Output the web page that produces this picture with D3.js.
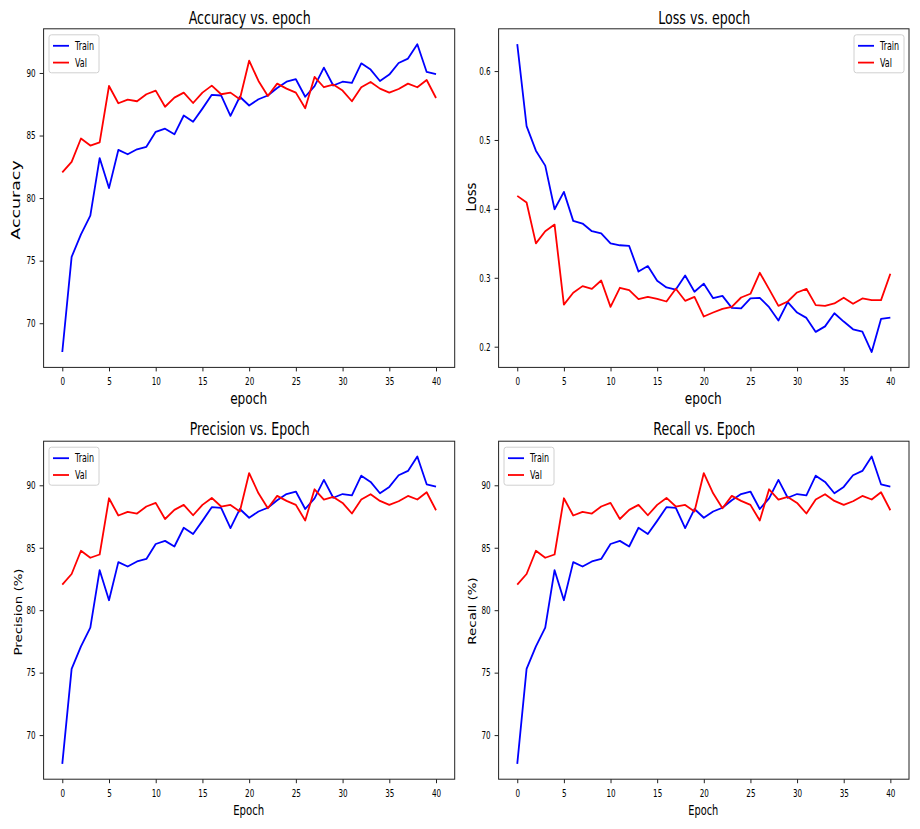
<!DOCTYPE html>
<html><head><meta charset="utf-8">
<script src="https://cdn.jsdelivr.net/npm/d3@7"></script>
<style>html,body{margin:0;padding:0;background:#fff;}svg{display:block;}</style>
</head><body>
<svg id="fig" width="920" height="829"></svg>
<script>
const epochs = d3.range(0, 41);
const xTicks = [0, 5, 10, 15, 20, 25, 30, 35, 40];
const pctTicks = [70, 75, 80, 85, 90];
const lossTicks = [0.2, 0.3, 0.4, 0.5, 0.6];
const seriesNames = ["Train", "Val"];

const accTrain = [67.7, 75.3, 77.1, 78.6, 83.2, 80.8, 83.85, 83.5, 83.9, 84.1, 85.3, 85.55, 85.1, 86.6, 86.1, 87.15, 88.25, 88.2, 86.57, 88.1, 87.4, 87.9, 88.2, 88.8, 89.3, 89.5, 88.1, 88.95, 90.43, 89.0, 89.3, 89.2, 90.77, 90.27, 89.36, 89.87, 90.8, 91.15, 92.3, 90.08, 89.9];
const accVal = [82.05, 82.9, 84.76, 84.2, 84.46, 88.96, 87.58, 87.87, 87.74, 88.3, 88.59, 87.3, 88.03, 88.43, 87.6, 88.43, 88.99, 88.3, 88.43, 87.9, 90.98, 89.36, 88.16, 89.15, 88.75, 88.43, 87.18, 89.68, 88.86, 89.07, 88.59, 87.74, 88.86, 89.28, 88.75, 88.43, 88.72, 89.15, 88.86, 89.44, 88.0];
const lossTrain = [0.639, 0.520, 0.4845, 0.4628, 0.3995, 0.4247, 0.3826, 0.3787, 0.3676, 0.3646, 0.350, 0.3472, 0.3462, 0.309, 0.317, 0.2956, 0.286, 0.283, 0.3034, 0.2797, 0.2915, 0.2704, 0.2738, 0.2564, 0.2555, 0.27, 0.271, 0.2574, 0.238, 0.2646, 0.2496, 0.2418, 0.2215, 0.2295, 0.2486, 0.2365, 0.2253, 0.222, 0.1923, 0.2403, 0.2422];
const lossVal = [0.4189, 0.4092, 0.350, 0.3676, 0.3772, 0.261, 0.2782, 0.2879, 0.284, 0.2961, 0.2578, 0.2855, 0.282, 0.269, 0.2724, 0.2695, 0.2656, 0.284, 0.2666, 0.2724, 0.2438, 0.2496, 0.255, 0.2578, 0.2714, 0.2768, 0.3073, 0.2835, 0.2593, 0.2656, 0.2787, 0.284, 0.2603, 0.2593, 0.2627, 0.271, 0.2622, 0.270, 0.2676, 0.2676, 0.3058];
const precTrain = [67.7, 75.3, 77.1, 78.6, 83.2, 80.8, 83.85, 83.5, 83.9, 84.1, 85.3, 85.55, 85.1, 86.6, 86.1, 87.15, 88.25, 88.2, 86.57, 88.1, 87.4, 87.9, 88.2, 88.8, 89.3, 89.5, 88.1, 88.95, 90.43, 89.0, 89.3, 89.2, 90.77, 90.27, 89.36, 89.87, 90.8, 91.15, 92.3, 90.08, 89.9];
const precVal = [82.05, 82.9, 84.76, 84.2, 84.46, 88.96, 87.58, 87.87, 87.74, 88.3, 88.59, 87.3, 88.03, 88.43, 87.6, 88.43, 88.99, 88.3, 88.43, 87.9, 90.98, 89.36, 88.16, 89.15, 88.75, 88.43, 87.18, 89.68, 88.86, 89.07, 88.59, 87.74, 88.86, 89.28, 88.75, 88.43, 88.72, 89.15, 88.86, 89.44, 88.0];
const recTrain = [67.7, 75.3, 77.1, 78.6, 83.2, 80.8, 83.85, 83.5, 83.9, 84.1, 85.3, 85.55, 85.1, 86.6, 86.1, 87.15, 88.25, 88.2, 86.57, 88.1, 87.4, 87.9, 88.2, 88.8, 89.3, 89.5, 88.1, 88.95, 90.43, 89.0, 89.3, 89.2, 90.77, 90.27, 89.36, 89.87, 90.8, 91.15, 92.3, 90.08, 89.9];
const recVal = [82.05, 82.9, 84.76, 84.2, 84.46, 88.96, 87.58, 87.87, 87.74, 88.3, 88.59, 87.3, 88.03, 88.43, 87.6, 88.43, 88.99, 88.3, 88.43, 87.9, 90.98, 89.36, 88.16, 89.15, 88.75, 88.43, 87.18, 89.68, 88.86, 89.07, 88.59, 87.74, 88.86, 89.28, 88.75, 88.43, 88.72, 89.15, 88.86, 89.44, 88.0];

const colors = ["#0000ff", "#ff0000"];
const FONT = "DejaVu Sans, sans-serif";
const SX = 0.7;

const panels = [
  {title: "Accuracy vs. epoch", titleW: 122, xlabel: "epoch", xlabW: 37, xlabFs: 15, ylabel: "Accuracy", ylabFs: 17.4, ylabW: null, ylabSx: 0.7, ylabCy: 200,
   train: accTrain, val: accVal, ticks: pctTicks, fmt: d3.format("d"),
   box: {l: 43.6, r: 454.7, t: 28.8, b: 367.4}, legend: "left", ylabX: 20.4, titleY: 24, xlabY: 404},
  {title: "Loss vs. epoch", titleW: 92, xlabel: "epoch", xlabW: 37, xlabFs: 15, ylabel: "Loss", ylabFs: 16, ylabW: 29, ylabSx: 0.85, ylabCy: 197,
   train: lossTrain, val: lossVal, ticks: lossTicks, fmt: d3.format(".1f"),
   box: {l: 498.6, r: 909.0, t: 28.8, b: 367.4}, legend: "right", ylabX: 475.5, titleY: 24, xlabY: 404},
  {title: "Precision vs. Epoch", titleW: 120, xlabel: "Epoch", xlabW: 31, xlabFs: 13.7, ylabel: "Precision (%)", ylabFs: 13.4, ylabW: null, ylabSx: 0.75, ylabCy: 612,
   train: precTrain, val: precVal, ticks: pctTicks, fmt: d3.format("d"),
   box: {l: 43.6, r: 454.7, t: 441.2, b: 779.2}, legend: "left", ylabX: 21.5, titleY: 435, xlabY: 815},
  {title: "Recall vs. Epoch", titleW: 102, xlabel: "Epoch", xlabW: 30, xlabFs: 13.7, ylabel: "Recall (%)", ylabFs: 13.4, ylabW: null, ylabSx: 0.75, ylabCy: 611,
   train: recTrain, val: recVal, ticks: pctTicks, fmt: d3.format("d"),
   box: {l: 498.6, r: 909.0, t: 441.2, b: 779.2}, legend: "left", ylabX: 475.8, titleY: 435, xlabY: 815}
];

const svg = d3.select("#fig");

function hText(g, str, x, y, fs, width) {
  const t = g.append("text").attr("x", x).attr("y", y)
    .attr("text-anchor", "middle").attr("font-family", FONT).attr("font-size", fs)
    .attr("fill", "#000").text(str);
  if (width) t.attr("textLength", width).attr("lengthAdjust", "spacingAndGlyphs");
  return t;
}

panels.forEach(p => {
  const b = p.box;
  const g = svg.append("g");
  const x = d3.scaleLinear().domain([-2, 42]).range([b.l, b.r]);
  const all = p.train.concat(p.val);
  const mn = d3.min(all), mx = d3.max(all), pad = (mx - mn) * 0.05;
  const y = d3.scaleLinear().domain([mn - pad, mx + pad]).range([b.b, b.t]);

  const line = d3.line().x((d, i) => x(epochs[i])).y(d => y(d));
  [p.train, p.val].forEach((s, k) => {
    g.append("path").datum(s).attr("d", line).attr("fill", "none")
      .attr("stroke", colors[k]).attr("stroke-width", 1.8).attr("stroke-linejoin", "round");
  });

  const xa = g.append("g").attr("transform", `translate(0,${b.b})`)
    .call(d3.axisBottom(x).tickValues(xTicks).tickSize(4).tickPadding(6).tickFormat(d3.format("d")));
  const ya = g.append("g").attr("transform", `translate(${b.l},0)`)
    .call(d3.axisLeft(y).tickValues(p.ticks).tickSize(4).tickPadding(4).tickFormat(p.fmt));
  [xa, ya].forEach(a => {
    a.select(".domain").remove();
    a.selectAll(".tick line").attr("stroke", "#222").attr("stroke-width", 1);
    a.selectAll(".tick text").each(function() {
      const t = d3.select(this);
      const tx = +t.attr("x") || 0, ty = +t.attr("y") || 0;
      t.attr("x", 0).attr("y", 0).attr("transform", `translate(${tx},${ty}) scale(${SX},1)`)
        .attr("font-family", FONT).attr("font-size", 10.3).attr("fill", "#000");
    });
  });

  g.append("rect").attr("x", b.l).attr("y", b.t).attr("width", b.r - b.l).attr("height", b.b - b.t)
    .attr("fill", "none").attr("stroke", "#222").attr("stroke-width", 1);

  const cx = (b.l + b.r) / 2;
  hText(g, p.title, cx + 0.5, p.titleY, 17.5, p.titleW);
  hText(g, p.xlabel, cx - 0.5, p.xlabY, p.xlabFs, p.xlabW);
  const yl = g.append("g").attr("transform", `translate(${p.ylabX},${p.ylabCy}) scale(${p.ylabSx},1)`)
    .append("text").attr("transform", "rotate(-90)").attr("text-anchor", "middle")
    .attr("font-family", FONT).attr("font-size", p.ylabFs).attr("fill", "#000").text(p.ylabel);
  if (p.ylabW) yl.attr("textLength", p.ylabW).attr("lengthAdjust", "spacingAndGlyphs");

  const lw = 50, lh = 38;
  const lx = p.legend === "left" ? b.l + 5.4 : b.r - 5 - lw;
  const ly = b.t + 6;
  const lg = g.append("g").attr("transform", `translate(${lx},${ly})`);
  lg.append("rect").attr("width", lw).attr("height", lh).attr("rx", 2.5)
    .attr("fill", "#fff").attr("fill-opacity", 0.8).attr("stroke", "#d0d0d0").attr("stroke-width", 1);
  seriesNames.forEach((n, k) => {
    const ry = 11 + k * 16.8;
    lg.append("line").attr("x1", 4).attr("x2", 20).attr("y1", ry).attr("y2", ry)
      .attr("stroke", colors[k]).attr("stroke-width", 1.8);
    lg.append("g").attr("transform", `translate(26,${ry + 4}) scale(${SX},1)`)
      .append("text").attr("font-family", FONT).attr("font-size", 11.4).attr("fill", "#000").text(n);
  });
});
</script>
</body></html>
